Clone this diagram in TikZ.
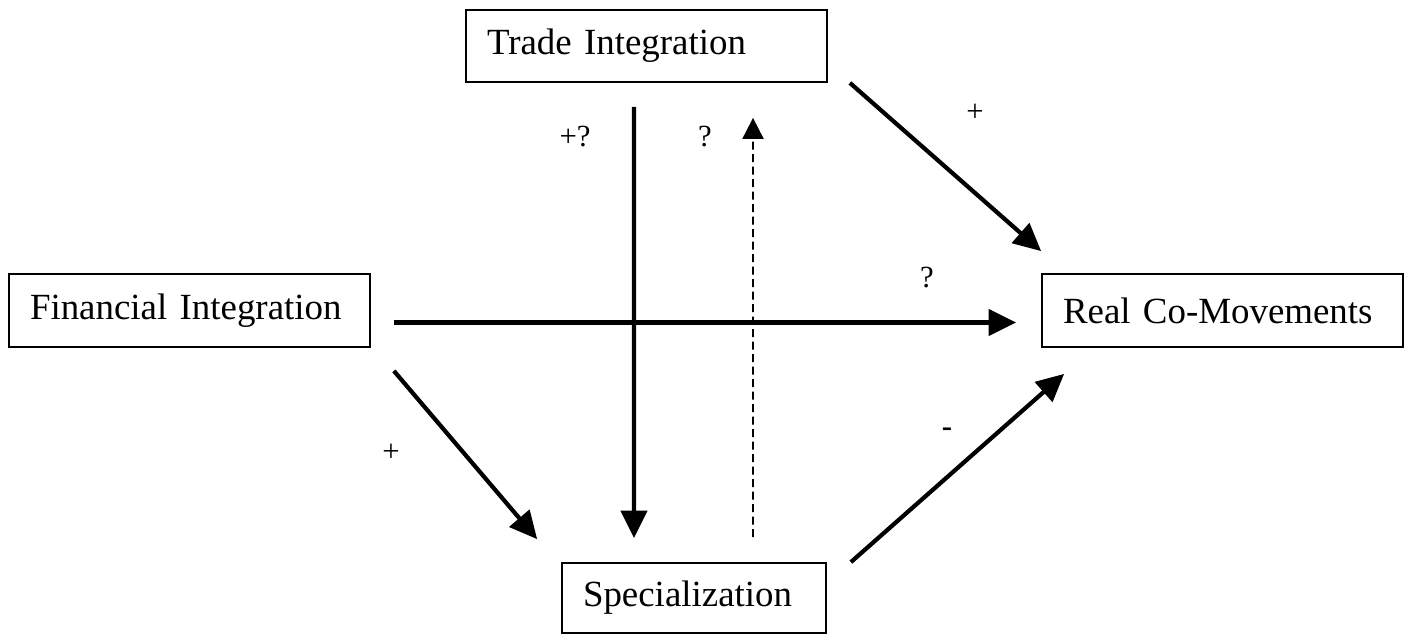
\documentclass[tikz,border=0pt]{standalone}
\usepackage{fontspec}
\setmainfont{Liberation Serif}
\usetikzlibrary{arrows.meta}
\begin{document}
\begin{tikzpicture}[
    box/.style={draw=black, line width=1pt, rectangle, align=left, inner xsep=0.42cm,
        font=\fontsize{21}{25}\selectfont},
    arr/.style={-{Triangle[length=0.55cm, width=0.52cm]}, line width=2.4pt},
    backarr/.style={-{Triangle[length=0.42cm, width=0.42cm]}, line width=1.1pt,
        dash pattern=on 0.16cm off 0.09cm},
    lbl/.style={font=\fontsize{17.5}{20}\selectfont}
]
    \useasboundingbox (0,0) rectangle (28.12,-12.7);
    % Four boxes
    \node[box, text width=6.38cm, minimum height=1.44cm] (trade) at (12.93,-0.92) {Trade Integration};
    \node[box, text width=6.38cm, minimum height=1.46cm] (fin) at (3.79,-6.21) {Financial Integration};
    \node[box, text width=6.38cm, minimum height=1.46cm] (real) at (24.45,-6.21) {Real Co-Movements};
    \node[box, text width=4.44cm, minimum height=1.40cm] (spec) at (13.88,-11.96) {Specialization};
    % Trade <-> specialization
    \draw[arr] ([xshift=-0.25cm, yshift=-0.48cm]trade.south) -- ([xshift=-1.20cm, yshift=0.48cm]spec.north);
    \draw[backarr] ([xshift=1.18cm, yshift=0.50cm]spec.north) -- ([xshift=2.13cm, yshift=-0.70cm]trade.south);
    % Into real co-movements
    \draw[arr] ([xshift=0.44cm]trade.south east) -- ([yshift=0.44cm]real.north west);
    \draw[arr] ([xshift=0.46cm, yshift=-0.24cm]fin.east) -- ([xshift=-0.50cm, yshift=-0.24cm]real.west);
    \draw[arr] ([xshift=0.46cm, yshift=-0.46cm]fin.south east) -- ([xshift=-0.48cm, yshift=0.46cm]spec.north west);
    \draw[arr] ([xshift=0.48cm]spec.north east) -- ([xshift=0.46cm, yshift=-0.52cm]real.south west);
    % Signs
    \node[lbl] (sgnTS) at (11.5,-2.74) {+?};
    \node[lbl] (sgnST) at (14.1,-2.74) {?};
    \node[lbl] (sgnTR) at (19.5,-2.26) {+};
    \node[lbl] (sgnFR) at (18.54,-5.56) {?};
    \node[lbl] (sgnFS) at (7.82,-9.06) {+};
    \node[lbl, font=\fontsize{17.5}{20}\selectfont\bfseries] (sgnSR) at (18.94,-8.64) {-};
\end{tikzpicture}
\end{document}
